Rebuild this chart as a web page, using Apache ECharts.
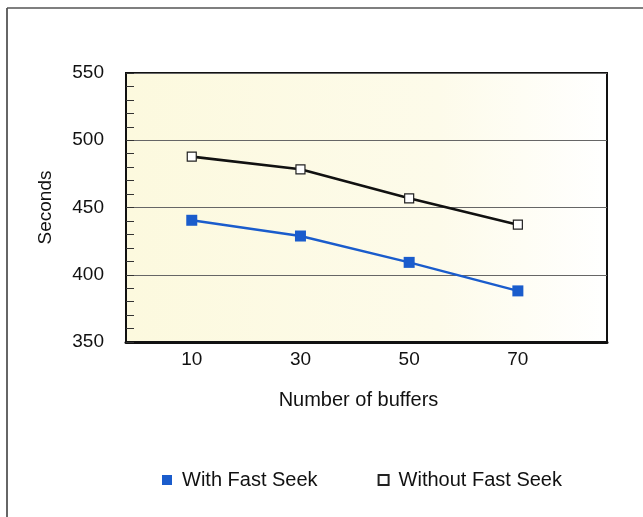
<!DOCTYPE html>
<html>
<head>
<meta charset="utf-8">
<script src="https://cdn.jsdelivr.net/npm/echarts@6/dist/echarts.min.js"></script>
<style>html,body{margin:0;padding:0;background:#fff;}#c{width:643px;height:517px;}</style>
</head>
<body>
<div id="c"></div>
<script>
const buffers = [10, 30, 50, 70];
const withFastSeek = [440.5, 428.8, 409.2, 388];
const withoutFastSeek = [487.8, 478.4, 456.8, 437.2];
const xTickLabels = [10, 30, 50, 70];
const seriesNames = ['With Fast Seek', 'Without Fast Seek'];

const font = 'Liberation Sans, Arial, Helvetica, sans-serif';
const chart = echarts.init(document.getElementById('c'));
chart.setOption({
  backgroundColor: '#fff',
  animation: false,
  textStyle: { fontFamily: font },
  graphic: [
    { type: 'line', shape: { x1: 7, y1: 8, x2: 7, y2: 517 }, style: { stroke: '#333', lineWidth: 1.5 } },
    { type: 'line', shape: { x1: 7, y1: 8, x2: 643, y2: 8 }, style: { stroke: '#555', lineWidth: 1.5 } }
  ],
  grid: {
    left: 126, right: 36, top: 73, bottom: 175,
    show: true,
    borderColor: '#111', borderWidth: 2,
    backgroundColor: {
      type: 'linear', x: 0, y: 0, x2: 1, y2: 0,
      colorStops: [
        { offset: 0, color: '#fcf9de' },
        { offset: 0.65, color: '#fdfbea' },
        { offset: 1, color: '#ffffff' }
      ]
    }
  },
  xAxis: {
    type: 'value',
    min: -2.1, max: 86.4,
    name: 'Number of buffers',
    nameLocation: 'middle',
    nameGap: 48,
    nameTextStyle: { fontSize: 20, color: '#111', fontFamily: font, padding: [0, 16, 0, 0] },
    axisLine: { show: true, onZero: false, lineStyle: { color: '#111', width: 3 } },
    axisTick: { show: false },
    splitLine: { show: false },
    axisLabel: {
      customValues: xTickLabels,
      fontSize: 19, color: '#111', margin: 8, fontFamily: font
    }
  },
  yAxis: {
    type: 'value',
    min: 350, max: 550, interval: 50,
    name: 'Seconds',
    nameLocation: 'middle',
    nameRotate: 90,
    nameGap: 71,
    nameTextStyle: { fontSize: 19, color: '#111', fontFamily: font },
    axisLine: { show: true, onZero: false, lineStyle: { color: '#111', width: 2 } },
    axisTick: { show: true, inside: true, length: 8, lineStyle: { color: '#333', width: 1 } },
    minorTick: { show: true, splitNumber: 5, length: 8, lineStyle: { color: '#333', width: 1 } },
    splitLine: { show: true, lineStyle: { color: '#666', width: 1 } },
    axisLabel: { fontSize: 19, color: '#111', margin: 22, fontFamily: font }
  },
  legend: {
    left: 157, top: 465,
    itemGap: 60,
    itemWidth: 10, itemHeight: 10,
    icon: 'rect',
    textStyle: { fontSize: 20, color: '#111', fontFamily: font, padding: [0, 0, 0, 5] },
    data: seriesNames
  },
  series: [
    {
      name: seriesNames[0],
      type: 'line',
      data: buffers.map((b, i) => [b, withFastSeek[i]]),
      symbol: 'rect', symbolSize: 11,
      lineStyle: { color: '#1a5ccc', width: 2.4 },
      itemStyle: { color: '#1a5ccc' },
      z: 3
    },
    {
      name: seriesNames[1],
      type: 'line',
      data: buffers.map((b, i) => [b, withoutFastSeek[i]]),
      symbol: 'rect', symbolSize: 9,
      lineStyle: { color: '#111', width: 2.6 },
      itemStyle: { color: '#fff', borderColor: '#222', borderWidth: 1.2 },
      z: 4
    }
  ]
});
</script>
</body>
</html>
